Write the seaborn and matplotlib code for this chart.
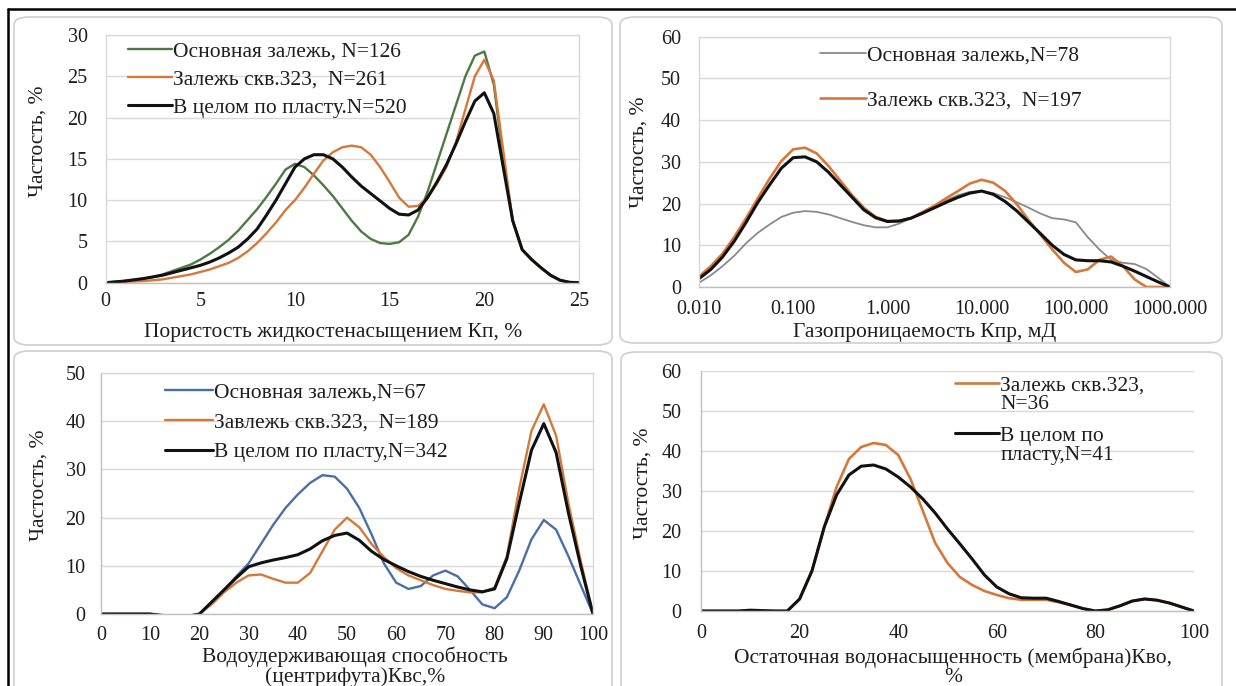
import numpy as np
import pandas as pd
import matplotlib
matplotlib.use("Agg")
import matplotlib.pyplot as plt
from matplotlib.patches import FancyBboxPatch
from matplotlib.lines import Line2D
from matplotlib.legend_handler import HandlerLine2D
import matplotlib.ticker as mticker
import seaborn as sns

# ---------------- data ----------------
# Panel 1: porosity Kp, %
kp_x = [0, 0.5, 1, 1.5, 2, 2.5, 3, 3.5, 4, 4.5, 5, 5.5, 6, 6.5, 7, 7.5, 8, 8.5, 9, 9.5,
        10, 10.5, 11, 11.5, 12, 12.5, 13, 13.5, 14, 14.5, 15, 15.5, 16, 16.5, 17, 17.5,
        18, 18.5, 19, 19.5, 20, 20.5, 21, 21.5, 22, 22.5, 23, 23.5, 24, 24.5, 25]
kp_main = [0, 0.1, 0.2, 0.35, 0.5, 0.7, 1.0, 1.4, 1.8, 2.2, 2.8, 3.5, 4.3, 5.2, 6.3, 7.6, 8.9, 10.4, 12.0, 13.7,
           14.4, 14.0, 13.0, 11.8, 10.5, 9.0, 7.5, 6.2, 5.3, 4.8, 4.7, 4.9, 5.8, 8.0, 11.0, 14.5,
           18.0, 21.5, 25.0, 27.5, 28.0, 24.0, 15.0, 7.5, 4.0, 2.8, 1.8, 0.9, 0.3, 0.05, 0]
kp_323 = [0, 0.05, 0.1, 0.15, 0.2, 0.3, 0.4, 0.6, 0.8, 1.0, 1.3, 1.6, 2.0, 2.4, 3.0, 3.8, 4.8, 6.0, 7.3, 8.8,
          10.0, 11.5, 13.2, 14.8, 15.8, 16.4, 16.6, 16.4, 15.5, 14.0, 12.2, 10.3, 9.2, 9.3, 10.3, 12.0,
          14.0, 17.0, 21.0, 25.0, 27.0, 24.5, 16.0, 7.5, 4.0, 2.8, 1.8, 0.9, 0.3, 0.05, 0]
kp_all = [0, 0.1, 0.2, 0.35, 0.5, 0.7, 0.9, 1.2, 1.5, 1.8, 2.1, 2.5, 3.0, 3.6, 4.3, 5.3, 6.5, 8.2, 10.0, 12.0,
          14.0, 15.0, 15.5, 15.5, 15.0, 14.0, 12.8, 11.7, 10.8, 9.9, 9.0, 8.3, 8.2, 8.8, 10.3, 12.2,
          14.3, 16.8, 19.5, 22.0, 23.0, 20.5, 14.0, 7.5, 4.0, 2.8, 1.8, 0.9, 0.3, 0.05, 0]
kp_labels = ["Основная залежь, N=126", "Залежь скв.323,  N=261", "В целом по пласту.N=520"]

# Panel 2: gas permeability Kpr, mD (log scale) - decimal exponents of x
kpr_exp = [-2, -1.875, -1.75, -1.625, -1.5, -1.375, -1.25, -1.125, -1, -0.875, -0.75, -0.625,
           -0.5, -0.375, -0.25, -0.125, 0, 0.125, 0.25, 0.375, 0.5, 0.625, 0.75, 0.875, 1,
           1.125, 1.25, 1.375, 1.5, 1.625, 1.75, 1.875, 2, 2.125, 2.25, 2.375, 2.5, 2.625,
           2.75, 2.875, 3]
kpr_main = [1.0, 2.8, 5.0, 7.5, 10.5, 13.0, 15.0, 16.8, 17.8, 18.2, 18.0, 17.4,
            16.5, 15.6, 14.8, 14.3, 14.3, 15.2, 16.5, 18.0, 19.5, 20.8, 22.0, 22.8, 23.0,
            22.5, 21.5, 20.3, 19.0, 17.6, 16.5, 16.2, 15.5, 12.0, 9.0, 6.5, 5.8, 5.5,
            4.3, 2.2, 0.0]
kpr_323 = [2.5, 5.0, 8.0, 12.0, 16.5, 21.3, 26.0, 30.2, 33.0, 33.4, 32.0, 29.0,
           25.5, 22.0, 19.0, 16.8, 15.8, 15.9, 16.5, 18.0, 19.5, 21.3, 23.0, 24.8, 25.7,
           25.0, 23.0, 19.8, 16.0, 12.5, 9.0, 5.8, 3.6, 4.2, 6.5, 7.3, 5.0, 1.8,
           0.0, 0.0, 0.0]
kpr_all = [2.0, 4.2, 7.2, 11.0, 15.5, 20.3, 24.5, 28.5, 31.0, 31.2, 30.0, 27.5,
           24.5, 21.5, 18.5, 16.6, 15.7, 15.8, 16.5, 17.7, 19.0, 20.3, 21.5, 22.5, 23.0,
           22.2, 20.5, 18.2, 15.5, 12.8, 10.0, 7.8, 6.5, 6.3, 6.3, 6.0, 5.0, 3.8,
           2.5, 1.2, 0.0]
kpr_labels = ["Основная залежь,N=78", "Залежь скв.323,  N=197"]
kpr_ticks = [0.01, 0.1, 1, 10, 100, 1000]
kpr_ticklabels = ["0.010", "0.100", "1.000", "10.000", "100.000", "1000.000"]

# Panel 3: water retention (centrifuge) Kvs, %
kvs_x = [0, 2.5, 5, 7.5, 10, 12.5, 15, 17.5, 20, 22.5, 25, 27.5, 30, 32.5, 35, 37.5, 40, 42.5,
         45, 47.5, 50, 52.5, 55, 57.5, 60, 62.5, 65, 67.5, 70, 72.5, 75, 77.5, 80, 82.5, 85,
         87.5, 90, 92.5, 95, 97.5, 100]
kvs_main = [0, 0, 0, 0, 0, -0.3, -0.8, -0.5, 0, 2.3, 5, 7.8, 10.5, 14.5, 18.5, 22, 24.8, 27.2,
            28.8, 28.5, 26, 22, 16.5, 10.5, 6.5, 5.2, 5.8, 8, 9, 7.8, 5, 2, 1.2, 3.5, 9,
            15.5, 19.5, 17.5, 12, 6, 0]
kvs_323 = [0, 0, 0, 0, 0, -0.3, -0.8, -0.5, 0, 2, 4.5, 6.5, 8, 8.2, 7.3, 6.5, 6.5, 8.5,
           13, 17.5, 20, 18, 14.5, 11.8, 9.5, 8, 7, 6, 5.2, 4.8, 4.5, 4.5, 5.5, 12, 26,
           38, 43.5, 37, 23, 11, 0]
kvs_all = [0, 0, 0, 0, 0, -0.3, -0.8, -0.5, 0, 2.5, 5, 7.5, 9.8, 10.6, 11.2, 11.7, 12.3, 13.5,
           15.2, 16.3, 16.8, 15.3, 13, 11.3, 10, 8.8, 7.8, 7, 6.3, 5.6, 5, 4.6, 5.2, 11.5, 23,
           34, 39.5, 33.5, 21, 10, 0]
kvs_labels = ["Основная залежь,N=67", "Завлежь скв.323,  N=189", "В целом по пласту,N=342"]

# Panel 4: residual water saturation (membrane) Kvo, %
kvo_x = [0, 2.5, 5, 7.5, 10, 12.5, 15, 17.5, 20, 22.5, 25, 27.5, 30, 32.5, 35, 37.5, 40, 42.5,
         45, 47.5, 50, 52.5, 55, 57.5, 60, 62.5, 65, 67.5, 70, 72.5, 75, 77.5, 80, 82.5, 85,
         87.5, 90, 92.5, 95, 97.5, 100]
kvo_323 = [0, 0, 0, 0, 0, 0, 0, 0, 3, 10, 21, 31, 38, 41, 42, 41.5, 39, 33,
           25, 17, 12, 8.5, 6.5, 5, 4, 3.2, 2.8, 2.8, 2.8, 2.2, 1.5, 0.6, 0, 0.3, 1.3,
           2.5, 3, 2.7, 2, 1, 0]
kvo_all = [0, 0, 0, 0, 0.2, 0.1, 0, 0, 3, 10, 21, 29, 34, 36.2, 36.5, 35.5, 33.5, 31,
           28, 24.5, 20.5, 16.8, 13, 9, 6, 4.3, 3.3, 3.2, 3.2, 2.4, 1.5, 0.6, 0, 0.3, 1.3,
           2.5, 3, 2.7, 2, 1, 0]
kvo_labels = ["Залежь скв.323,\nN=36", "В целом по\nпласту,N=41"]

# ---------------- style ----------------
sns.set_theme(style="white")
plt.rcParams["font.family"] = ["Liberation Serif", "DejaVu Serif"]
plt.rcParams["axes.unicode_minus"] = False

GREEN = "#4d7a44"
ORANGE = "#d5783a"
BLACK = "#111111"
GREY = "#8a8a8a"
BLUE = "#4a6ea8"
GRID = "#d9d9d9"
TXT = "#1e1e1e"
FS_T = 14.5    # tick labels
FS = 15.5      # axis labels and legends

W, H = 1236, 686
fig = plt.figure(figsize=(W / 100, H / 100), dpi=100)
fig.patch.set_facecolor("white")

def fx(px):
    return px / W

def fy(py):
    return 1 - py / H

# rounded panel frames
for (x0, y0, x1, y1) in [(14, 17, 612, 345), (620, 17, 1222, 343),
                         (14, 351, 612, 700), (621, 352, 1222, 700)]:
    fig.patches.append(FancyBboxPatch((fx(x0), fy(y1)), fx(x1 - x0), (y1 - y0) / H,
                                      boxstyle="round,pad=0,rounding_size=0.012",
                                      transform=fig.transFigure, facecolor="none",
                                      edgecolor="#cfcfcf", linewidth=1.2, zorder=-5))
# outer black frame
fig.lines.append(Line2D([fx(8), 1], [fy(9), fy(9)], transform=fig.transFigure, color="black", lw=1.8))
fig.lines.append(Line2D([fx(8), fx(8)], [0, fy(9)], transform=fig.transFigure, color="black", lw=1.8))


def make_ax(x0, x1, y_top, y_bot, xpad, ypad):
    ax = fig.add_axes([fx(x0), fy(y_bot), fx(x1 - x0), (y_bot - y_top) / H])
    ax.set_facecolor("none")
    ax.yaxis.grid(True, color=GRID, lw=1)
    ax.xaxis.grid(False)
    ax.set_axisbelow(True)
    ax.tick_params(labelsize=FS_T, colors=TXT, length=0)
    ax.tick_params(axis="x", pad=xpad)
    ax.tick_params(axis="y", pad=ypad)
    return ax

def style_spines(ax, box=True, ticks=False):
    for s in ax.spines.values():
        s.set_color(GRID)
        s.set_linewidth(1)
        s.set_visible(box)
    ax.spines["bottom"].set_visible(True)
    ax.spines["bottom"].set_color("#bfbfbf")
    if ticks:
        ax.spines["left"].set_visible(True)
        ax.spines["left"].set_color("#bfbfbf")
        ax.tick_params(length=4, color="#bfbfbf", direction="out")

class TopAlignedLine(HandlerLine2D):
    """Legend line aligned with the first text line of a two-line label."""
    def create_artists(self, legend, orig_handle, xdescent, ydescent, width, height, fontsize, trans):
        arts = super().create_artists(legend, orig_handle, xdescent, ydescent, width, height, fontsize, trans)
        for a in arts:
            yd = np.asarray(a.get_ydata(), dtype=float)
            a.set_ydata(yd + 0.55 * fontsize)
        return arts

def legend(ax, handles, labels, x, y, hl, ls, top_align=False):
    kw = {}
    if top_align:
        kw["handler_map"] = {h: TopAlignedLine() for h in handles}
    lg = ax.legend(handles, labels, loc="upper left", bbox_to_anchor=(x, y), frameon=False,
                   fontsize=FS, handlelength=hl, handletextpad=0.05, labelspacing=ls,
                   borderpad=0, borderaxespad=0, **kw)
    for t in lg.get_texts():
        t.set_color(TXT)
        t.set_linespacing(0.95)
    return lg

def labels(ax, xl, yl, xpos, ypos):
    ax.set_xlabel(xl, fontsize=FS, color=TXT, linespacing=1.0, va="top")
    ax.set_ylabel(yl, fontsize=FS, color=TXT)
    ax.xaxis.set_label_coords(*xpos)
    ax.yaxis.set_label_coords(*ypos)

# ---- Panel 1 ----
ax1 = make_ax(105.6, 579, 35, 282.7, xpad=7, ypad=13)
sns.lineplot(x=kp_x, y=kp_main, ax=ax1, color=GREEN, lw=1.7, sort=False)
sns.lineplot(x=kp_x, y=kp_323, ax=ax1, color=ORANGE, lw=1.7, sort=False)
sns.lineplot(x=kp_x, y=kp_all, ax=ax1, color=BLACK, lw=2.2, sort=False)
ax1.set_xlim(0, 25)
ax1.set_ylim(0, 30)
ax1.set_xticks(range(0, 26, 5))
ax1.set_yticks(range(0, 31, 5))
style_spines(ax1, box=True)
labels(ax1, "Пористость жидкостенасыщением Кп, %", "Частость, %", (0.48, -0.162), (-0.122, 0.57))
legend(ax1, ax1.lines[:3], kp_labels, 0.047, 0.973, 2.05, 0.37)

# ---- Panel 2 ----
ax2 = make_ax(699, 1170, 36.7, 287, xpad=9, ypad=13)
kpr_x = np.power(10.0, kpr_exp)
sns.lineplot(x=kpr_x, y=kpr_main, ax=ax2, color=GREY, lw=1.3, sort=False)
sns.lineplot(x=kpr_x, y=kpr_323, ax=ax2, color=ORANGE, lw=1.9, sort=False)
sns.lineplot(x=kpr_x, y=kpr_all, ax=ax2, color=BLACK, lw=2.2, sort=False)
ax2.set_xscale("log")
ax2.set_xlim(0.01, 1000)
ax2.set_ylim(0, 60)
ax2.xaxis.set_major_locator(mticker.FixedLocator(kpr_ticks))
ax2.xaxis.set_minor_locator(mticker.NullLocator())
ax2.set_xticklabels(kpr_ticklabels)
ax2.set_yticks(range(0, 61, 10))
style_spines(ax2, box=True)
labels(ax2, "Газопроницаемость Кпр, мД", "Частость, %", (0.48, -0.142), (-0.108, 0.54))
legend(ax2, ax2.lines[:2], kpr_labels, 0.257, 0.965, 2.15, 1.16)

# ---- Panel 3 ----
ax3 = make_ax(101, 593, 373, 614, xpad=5, ypad=7)
sns.lineplot(x=kvs_x, y=kvs_main, ax=ax3, color=BLUE, lw=1.7, sort=False)
sns.lineplot(x=kvs_x, y=kvs_323, ax=ax3, color=ORANGE, lw=1.7, sort=False)
sns.lineplot(x=kvs_x, y=kvs_all, ax=ax3, color=BLACK, lw=2.2, sort=False)
ax3.set_xlim(0, 100)
ax3.set_ylim(0, 50)
ax3.set_xticks(range(0, 101, 10))
ax3.set_yticks(range(0, 51, 10))
style_spines(ax3, box=True, ticks=True)
labels(ax3, "Водоудерживающая способность\n(центрифута)Квс,%", "Частость, %", (0.516, -0.135), (-0.106, 0.535))
legend(ax3, ax3.lines[:3], kvs_labels, 0.13, 0.962, 2.25, 0.46)

# ---- Panel 4 ----
ax4 = make_ax(701, 1194, 371, 611, xpad=5, ypad=10)
sns.lineplot(x=kvo_x, y=kvo_323, ax=ax4, color=ORANGE, lw=1.9, sort=False)
sns.lineplot(x=kvo_x, y=kvo_all, ax=ax4, color=BLACK, lw=2.2, sort=False)
ax4.set_xlim(0, 100)
ax4.set_ylim(0, 60)
ax4.set_xticks(range(0, 101, 20))
ax4.set_yticks(range(0, 61, 10))
style_spines(ax4, box=False, ticks=True)
labels(ax4, "Остаточная водонасыщенность (мембрана)Кво,\n%", "Частость, %", (0.511, -0.152), (-0.099, 0.533))
legend(ax4, ax4.lines[:2], kvo_labels, 0.515, 0.975, 2.05, 0.6, top_align=True)

fig.savefig("out.png", dpi=100, facecolor="white")
